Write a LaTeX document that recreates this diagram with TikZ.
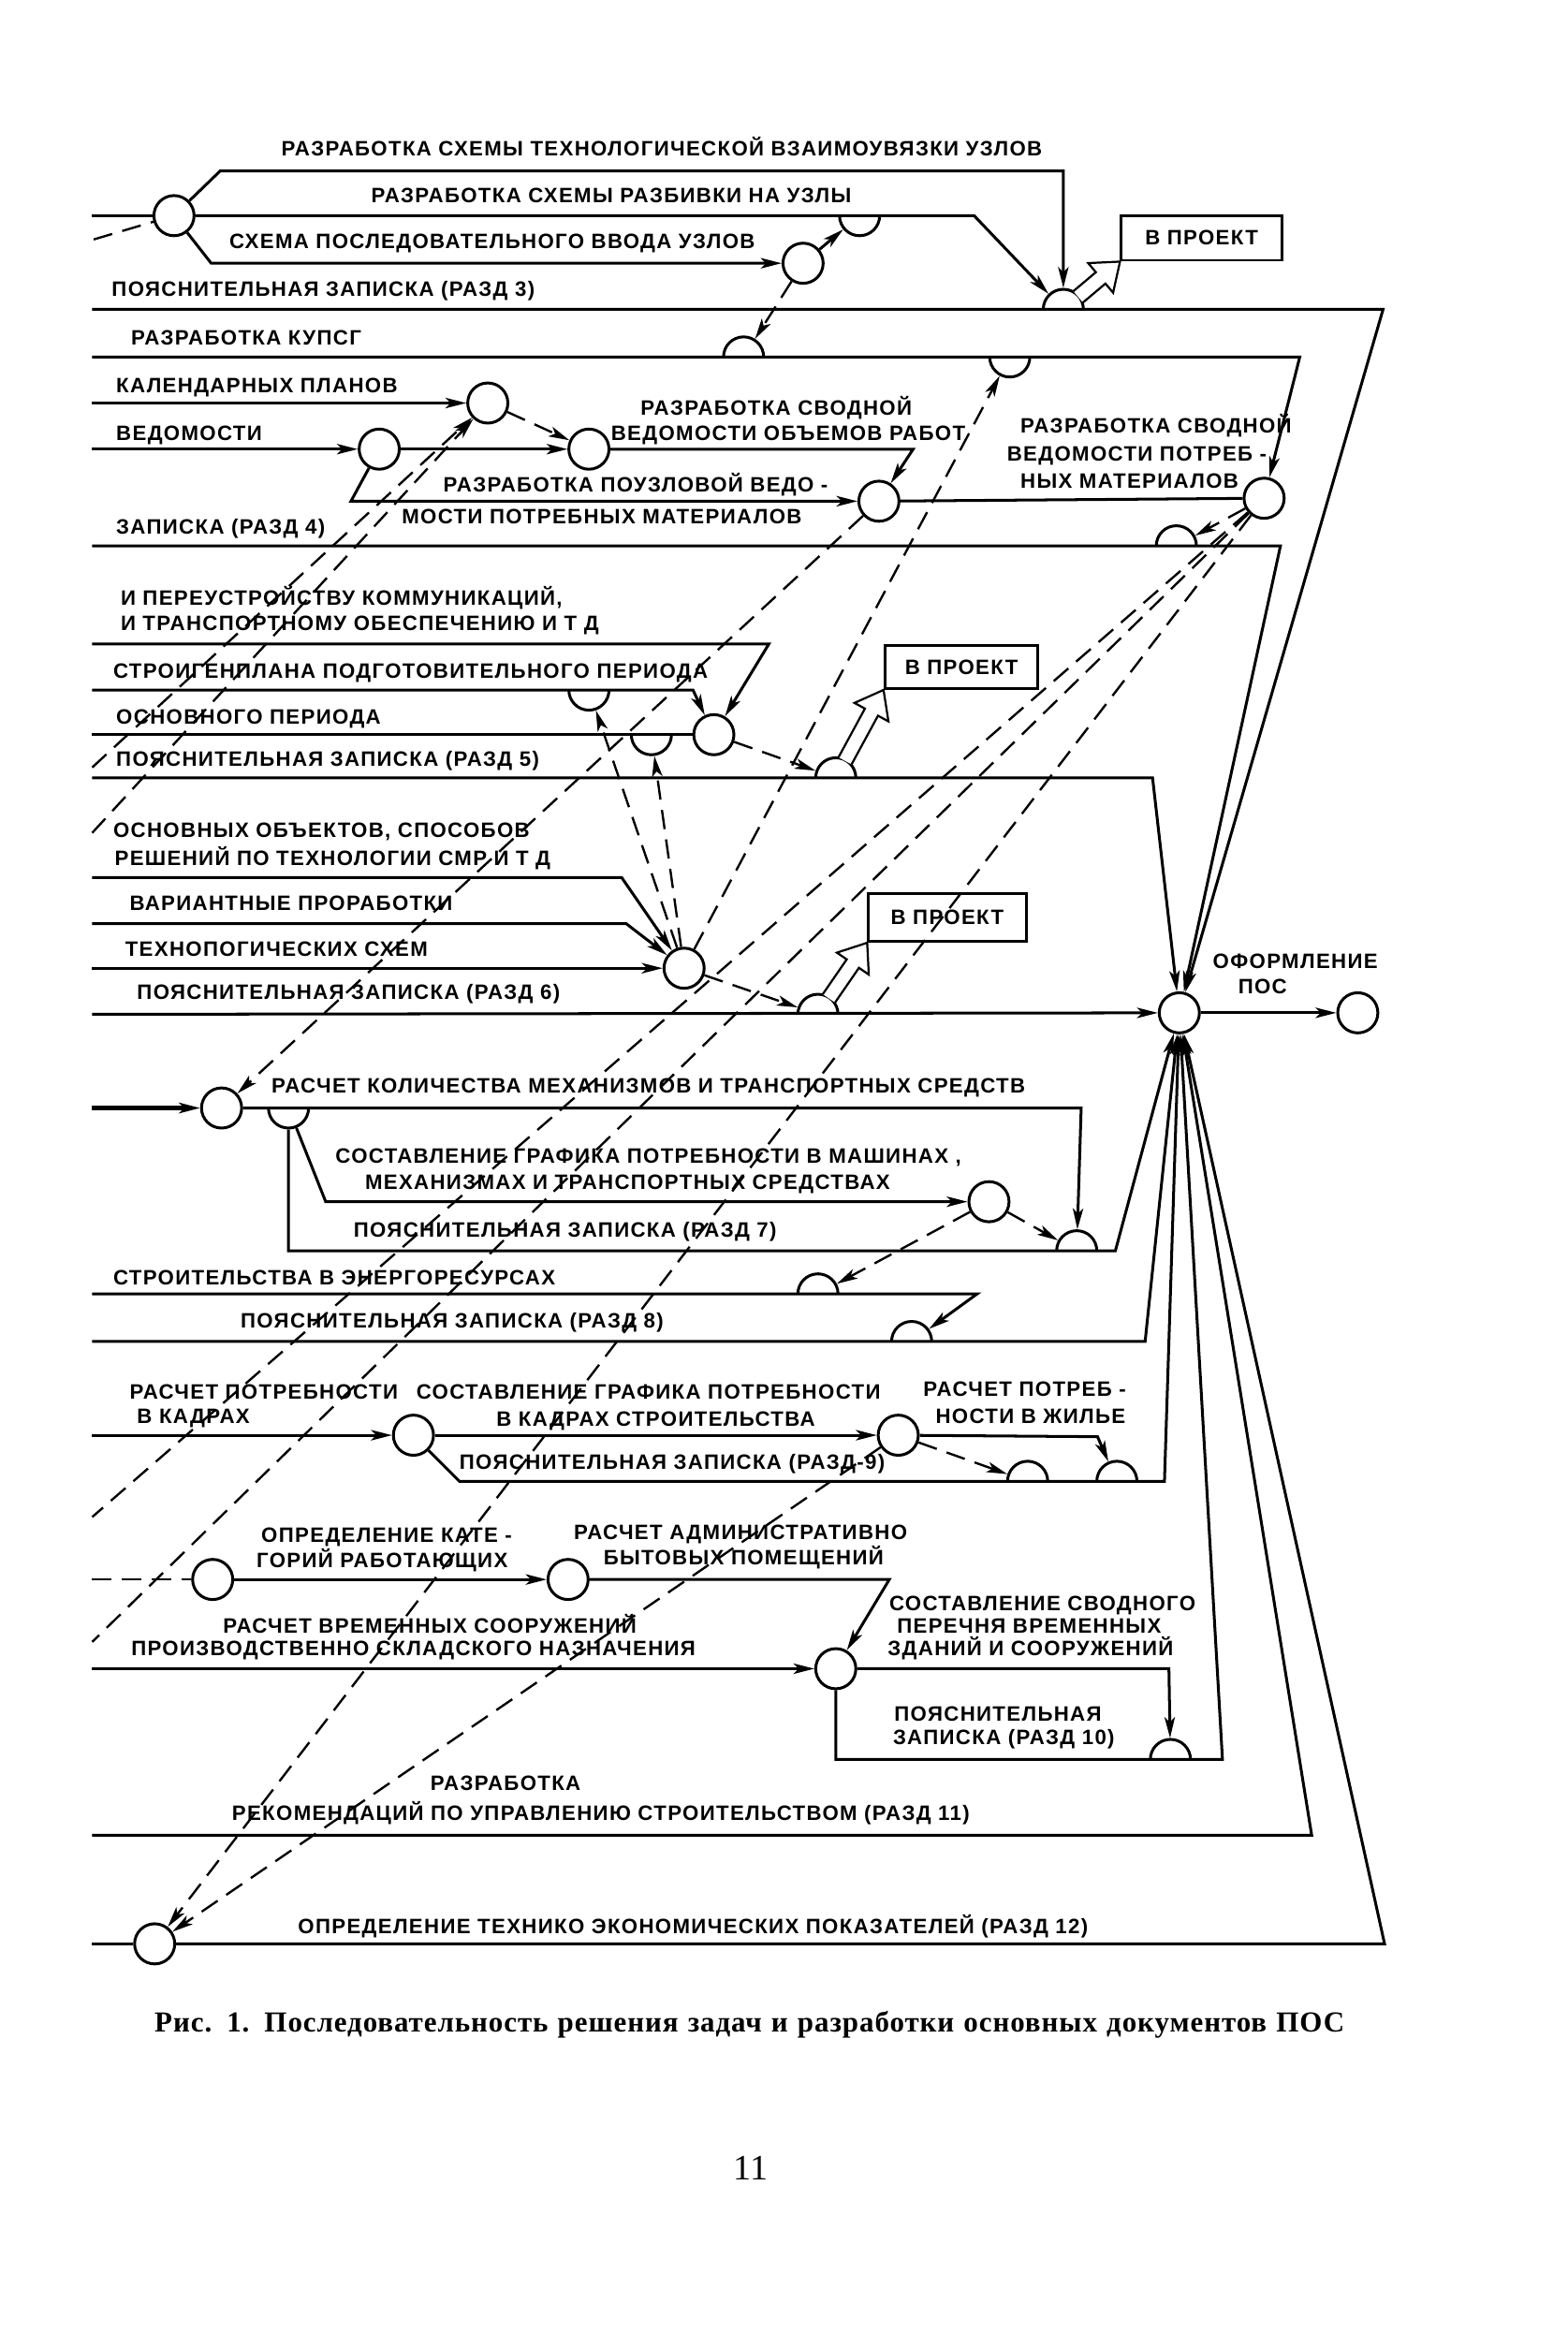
\documentclass[tikz,border=0pt]{standalone}
\usepackage{fontspec}
\setmainfont{Liberation Sans}
\newfontfamily\lblf[LetterSpace=6]{Liberation Sans}
\newfontfamily\capf[LetterSpace=3]{Liberation Serif}
\newfontfamily\pgf{Liberation Serif}
\newcommand\lbl{\lblf\bfseries\fontsize{14}{16}\selectfont}
\usetikzlibrary{arrows.meta,calc,backgrounds}
\newcommand\domeup[3]{\begin{scope}\clip (#2-16,#3-16) rectangle (#2+16,#3);\node[hd] (#1) at (#2,#3) {};\end{scope}}
\newcommand\domedn[3]{\begin{scope}\clip (#2-16,#3) rectangle (#2+16,#3+16);\node[hd] (#1) at (#2,#3) {};\end{scope}}
\newcommand\hollow[2]{%
 \coordinate (ht) at (#2);
 \coordinate (hs) at ($(#1)!13pt!(ht)$);
 \coordinate (hb) at ($(ht)!17pt!(hs)$);
 \draw[line width=1.4pt,fill=white,line join=miter] ($(hs)!5pt!90:(ht)$) -- ($(hb)!5pt!-90:(hs)$) -- ($(hb)!13pt!-90:(hs)$) -- (ht) -- ($(hb)!13pt!90:(hs)$) -- ($(hb)!5pt!90:(hs)$) -- ($(hs)!5pt!-90:(ht)$);}
\begin{document}
\begin{tikzpicture}[x=1pt,y=-1pt,
 >={Stealth[length=14pt,width=7pt,inset=3.5pt]},
 nd/.style={circle,draw,fill=white,minimum size=27pt,inner sep=0pt,line width=1.9pt},
 hd/.style={circle,draw,minimum size=27pt,inner sep=0pt,line width=1.9pt},
 ln/.style={line width=1.9pt},
 dsh/.style={line width=1.5pt,dash pattern=on 13pt off 7pt},
 bx/.style={draw,line width=1.8pt,font=\lbl,inner sep=0pt},
 lw/.style={anchor=base west,inner sep=0pt,font=\lbl},
 lc/.style={anchor=base,inner sep=0pt,font=\lbl}]
\useasboundingbox (0,0) rectangle (1054,1568);
% circles
\node[nd] (A) at (117,145) {};
\node[nd] (B) at (540,177) {};
\node[nd] (K) at (328,271) {};
\node[nd] (V) at (255,302) {};
\node[nd] (S) at (396,302) {};
\node[nd] (M) at (591,337) {};
\node[nd] (C) at (850,335) {};
\node[nd] (N5) at (480,494) {};
\node[nd] (N6) at (460,651) {};
\node[nd] (P) at (793,681) {};
\node[nd] (Q) at (913,681) {};
\node[nd] (R7) at (149,745) {};
\node[nd] (N7) at (665,808) {};
\node[nd] (N9a) at (278,965) {};
\node[nd] (N9b) at (604,965) {};
\node[nd] (O) at (143,1062) {};
\node[nd] (N10a) at (382,1062) {};
\node[nd] (N10b) at (562,1122) {};
\node[nd] (Z) at (104,1307) {};
% domes and hanging halves
\domeup{DK}{500}{240}
\domeup{D3}{715}{208}
\domeup{D4}{791}{367}
\domeup{D5}{562}{523}
\domeup{D6}{550}{682}
\domeup{D7}{724}{841}
\domeup{D8a}{550}{870}
\domeup{D8b}{613}{902}
\domeup{D9a}{691}{996}
\domeup{D9b}{751}{996}
\domeup{D10}{787}{1183}
\domedn{H1}{578}{145}
\domedn{H2}{679}{240}
\domedn{H5a}{396}{464}
\domedn{H5b}{438}{494}
\domedn{H7}{194}{745}
% boxes
\node[bx,minimum width=108pt,minimum height=30pt] (bx1) at (808,160) {В ПРОЕКТ};
\node[bx,minimum width=103pt,minimum height=29pt] (bx2) at (646.5,448.5) {В ПРОЕКТ};
\node[bx,minimum width=106pt,minimum height=32pt] (bx3) at (637,617) {В ПРОЕКТ};
% free ends
\coordinate (e1) at (62,145); \coordinate (e1d) at (63,161);
\coordinate (e3) at (62,208); \coordinate (eK) at (62,240);
\coordinate (eCal) at (62,271); \coordinate (eVed) at (62,302);
\coordinate (e4) at (62,367); \coordinate (eT) at (62,433);
\coordinate (eSG) at (62,464); \coordinate (eOP) at (62,494);
\coordinate (e5) at (62,523); \coordinate (eOO) at (62,590);
\coordinate (eVP) at (62,621); \coordinate (eTS) at (62,651);
\coordinate (e6) at (62,682); \coordinate (eR7) at (62,745);
\coordinate (eEN) at (62,870); \coordinate (e8) at (62,902);
\coordinate (eN9) at (62,965); \coordinate (eO) at (62,1062);
\coordinate (eN10) at (62,1122); \coordinate (e11) at (62,1234);
\coordinate (eZ) at (62,1307);
\coordinate (dk1) at (62,516); \coordinate (dk2) at (62,560);
\coordinate (dca) at (62,1020); \coordinate (dcb) at (62,1104);
\begin{scope}[on background layer]
\fill[white] (0,0) rectangle (1054,1568);
\draw[ln] (e1) -- (A);
\draw[dsh] (e1d) -- (A);
\draw[ln,->] (A) -- (148,115) -- (715,115) -- (D3);
\draw[ln,->] (A) -- (655,145) -- (D3);
\draw[ln,->] (A) -- (142,177) -- (B);
\draw[ln,->] (B) -- (H1);
\draw[dsh,->] (B) -- (DK);
\draw[ln,->] (e3) -- (930,208) -- (P);
\draw[ln,->] (eK) -- (874,240) -- (C);
\draw[ln,->] (eCal) -- (K);
\draw[ln,->] (eVed) -- (V);
\draw[ln,->] (V) -- (S);
\draw[dsh,->] (K) -- (S);
\draw[ln,->] (S) -- (614,302) -- (M);
\draw[ln,->] (V) -- (236,337) -- (M);
\draw[ln] (M) -- (C);
\draw[dsh,->] (C) -- (D4);
\draw[ln,->] (e4) -- (861,367) -- (P);
\draw[dsh,->] (dk1) -- (K);
\draw[dsh,->] (dk2) -- (K);
\draw[dsh,->] (M) -- (R7);
\draw[dsh] (C) -- (dca);
\draw[dsh] (C) -- (dcb);
\draw[dsh,->] (C) -- (Z);
\draw[ln,->] (eT) -- (517,433) -- (N5);
\draw[ln,->] (eSG) -- (466,464) -- (N5);
\draw[ln] (eOP) -- (N5);
\draw[ln,->] (e5) -- (775,523) -- (P);
\draw[dsh,->] (N5) -- (D5);
\draw[ln,->] (eOO) -- (418,590) -- (N6);
\draw[ln,->] (eVP) -- (421,621) -- (N6);
\draw[ln,->] (eTS) -- (N6);
\draw[ln,->] (e6) -- (P);
\draw[dsh,->] (N6) -- (D6);
\draw[dsh,->] (N6) -- (H5a);
\draw[dsh,->] (N6) -- (H5b);
\draw[dsh,->] (N6) -- (H2);
\draw[ln,->] (P) -- (Q);
\draw[line width=3.2pt,->] (eR7) -- (R7);
\draw[ln,->] (R7) -- (727,745) -- (D7);
\draw[ln,->] (H7) -- (194,841) -- (750,841) -- (P);
\draw[ln,->] (H7) -- (219,808) -- (N7);
\draw[dsh,->] (N7) -- (D7);
\draw[dsh,->] (N7) -- (D8a);
\draw[ln,->] (eEN) -- (657,870) -- (D8b);
\draw[ln,->] (e8) -- (770,902) -- (P);
\draw[ln,->] (eN9) -- (N9a);
\draw[ln,->] (N9a) -- (N9b);
\draw[ln,->] (N9a) -- (309,996) -- (783,996) -- (P);
\draw[ln,->] (N9b) -- (738,966) -- (D9b);
\draw[dsh,->] (N9b) -- (D9a);
\draw[dsh,->] (N9b) -- (Z);
\draw[dsh] (eO) -- (O);
\draw[ln,->] (O) -- (N10a);
\draw[ln,->] (N10a) -- (598,1062) -- (N10b);
\draw[ln,->] (eN10) -- (N10b);
\draw[ln,->] (N10b) -- (786,1122) -- (D10);
\draw[ln,->] (N10b) -- (562,1183) -- (822,1183) -- (P);
\draw[ln,->] (e11) -- (882,1234) -- (P);
\draw[ln] (eZ) -- (Z);
\draw[ln,->] (Z) -- (931,1307) -- (P);
\end{scope}
% hollow arrows to boxes
\hollow{D3}{bx1.south west}
\hollow{D5}{bx2.south west}
\hollow{D6}{bx3.south west}
% labels
\node[lc] (t1) at (445,105) {РАЗРАБОТКА СХЕМЫ ТЕХНОЛОГИЧЕСКОЙ ВЗАИМОУВЯЗКИ УЗЛОВ};
\node[lc] (t2) at (411,136) {РАЗРАБОТКА СХЕМЫ РАЗБИВКИ НА УЗЛЫ};
\node[lc] (t3) at (331,167) {СХЕМА ПОСЛЕДОВАТЕЛЬНОГО ВВОДА УЗЛОВ};
\node[lw] (t4) at (75,199) {ПОЯСНИТЕЛЬНАЯ ЗАПИСКА (РАЗД 3)};
\node[lw] (t5) at (88,232) {РАЗРАБОТКА КУПСГ};
\node[lw] (t6) at (78,264) {КАЛЕНДАРНЫХ ПЛАНОВ};
\node[lw] (t7) at (78,296) {ВЕДОМОСТИ};
\node[lc] (t8) at (522,279) {РАЗРАБОТКА СВОДНОЙ};
\node[lc] (t9) at (530,296) {ВЕДОМОСТИ ОБЪЕМОВ РАБОТ};
\node[lw] (t10) at (298,331) {РАЗРАБОТКА ПОУЗЛОВОЙ ВЕДО -};
\node[lw] (t11) at (270,352) {МОСТИ ПОТРЕБНЫХ МАТЕРИАЛОВ};
\node[lw] (t12) at (686,291) {РАЗРАБОТКА СВОДНОЙ};
\node[lw] (t13) at (677,310) {ВЕДОМОСТИ ПОТРЕБ -};
\node[lw] (t14) at (686,328) {НЫХ МАТЕРИАЛОВ};
\node[lw] (t15) at (78,359) {ЗАПИСКА (РАЗД 4)};
\node[lw] (t16) at (81,407) {И ПЕРЕУСТРОЙСТВУ КОММУНИКАЦИЙ,};
\node[lw] (t17) at (81,424) {И ТРАНСПОРТНОМУ ОБЕСПЕЧЕНИЮ И Т Д};
\node[lw] (t18) at (76,456) {СТРОИГЕНПЛАНА ПОДГОТОВИТЕЛЬНОГО ПЕРИОДА};
\node[lw] (t19) at (78,487) {ОСНОВНОГО ПЕРИОДА};
\node[lw] (t20) at (78,515) {ПОЯСНИТЕЛЬНАЯ ЗАПИСКА (РАЗД 5)};
\node[lw] (t21) at (76,563) {ОСНОВНЫХ ОБЪЕКТОВ, СПОСОБОВ};
\node[lw] (t22) at (77,582) {РЕШЕНИЙ ПО ТЕХНОЛОГИИ СМР И Т Д};
\node[lw] (t23) at (87,612) {ВАРИАНТНЫЕ ПРОРАБОТКИ};
\node[lw] (t24) at (84,643) {ТЕХНОПОГИЧЕСКИХ СХЕМ};
\node[lw] (t25) at (92,672) {ПОЯСНИТЕЛЬНАЯ ЗАПИСКА (РАЗД 6)};
\node[lc] (t26) at (436,735) {РАСЧЕТ КОЛИЧЕСТВА МЕХАНИЗМОВ И ТРАНСПОРТНЫХ СРЕДСТВ};
\node[lc] (t27) at (436,782) {СОСТАВЛЕНИЕ ГРАФИКА ПОТРЕБНОСТИ В МАШИНАХ ,};
\node[lc] (t28) at (422,800) {МЕХАНИЗМАХ И ТРАНСПОРТНЫХ СРЕДСТВАХ};
\node[lc] (t29) at (380,832) {ПОЯСНИТЕЛЬНАЯ ЗАПИСКА (РАЗД 7)};
\node[lw] (t30) at (76,864) {СТРОИТЕЛЬСТВА В ЭНЕРГОРЕСУРСАХ};
\node[lc] (t31) at (304,893) {ПОЯСНИТЕЛЬНАЯ ЗАПИСКА (РАЗД 8)};
\node[lw] (t32) at (87,941) {РАСЧЕТ ПОТРЕБНОСТИ};
\node[lw] (t33) at (92,957) {В КАДРАХ};
\node[lc] (t34) at (436,941) {СОСТАВЛЕНИЕ ГРАФИКА ПОТРЕБНОСТИ};
\node[lc] (t35) at (441,959) {В КАДРАХ СТРОИТЕЛЬСТВА};
\node[lc] (t36) at (452,988) {ПОЯСНИТЕЛЬНАЯ ЗАПИСКА (РАЗД-9)};
\node[lc] (t37) at (689,939) {РАСЧЕТ ПОТРЕБ -};
\node[lc] (t38) at (693,957) {НОСТИ В ЖИЛЬЕ};
\node[lc] (t39) at (260,1037) {ОПРЕДЕЛЕНИЕ КАТЕ -};
\node[lc] (t40) at (257,1054) {ГОРИЙ РАБОТАЮЩИХ};
\node[lc] (t41) at (498,1035) {РАСЧЕТ АДМИНИСТРАТИВНО};
\node[lc] (t42) at (500,1052) {БЫТОВЫХ ПОМЕЩЕНИЙ};
\node[lc] (t43) at (701,1083) {СОСТАВЛЕНИЕ СВОДНОГО};
\node[lc] (t44) at (692,1098) {ПЕРЕЧНЯ ВРЕМЕННЫХ};
\node[lc] (t45) at (693,1113) {ЗДАНИЙ И СООРУЖЕНИЙ};
\node[lc] (t46) at (289,1098) {РАСЧЕТ ВРЕМЕННЫХ СООРУЖЕНИЙ};
\node[lc] (t47) at (278,1113) {ПРОИЗВОДСТВЕННО СКЛАДСКОГО НАЗНАЧЕНИЯ};
\node[lc] (t48) at (671,1157) {ПОЯСНИТЕЛЬНАЯ};
\node[lc] (t49) at (675,1173) {ЗАПИСКА (РАЗД 10)};
\node[lc] (t50) at (340,1204) {РАЗРАБОТКА};
\node[lc] (t51) at (404,1224) {РЕКОМЕНДАЦИЙ ПО УПРАВЛЕНИЮ СТРОИТЕЛЬСТВОМ (РАЗД 11)};
\node[lc] (t52) at (466,1300) {ОПРЕДЕЛЕНИЕ ТЕХНИКО ЭКОНОМИЧЕСКИХ ПОКАЗАТЕЛЕЙ (РАЗД 12)};
\node[lc] (t53) at (871,651) {ОФОРМЛЕНИЕ};
\node[lc] (t54) at (849,668) {ПОС};
% caption and page number
\node[anchor=base,inner sep=0pt] (cap) at (504,1366) {\capf\bfseries\fontsize{19.5}{22}\selectfont\makebox[800pt][s]{Рис. 1. Последовательность решения задач и разработки основных документов ПОС}};
\node[inner sep=0pt] (pg) at (505,1458) {\pgf\fontsize{24}{26}\selectfont 11};
\end{tikzpicture}
\end{document}
